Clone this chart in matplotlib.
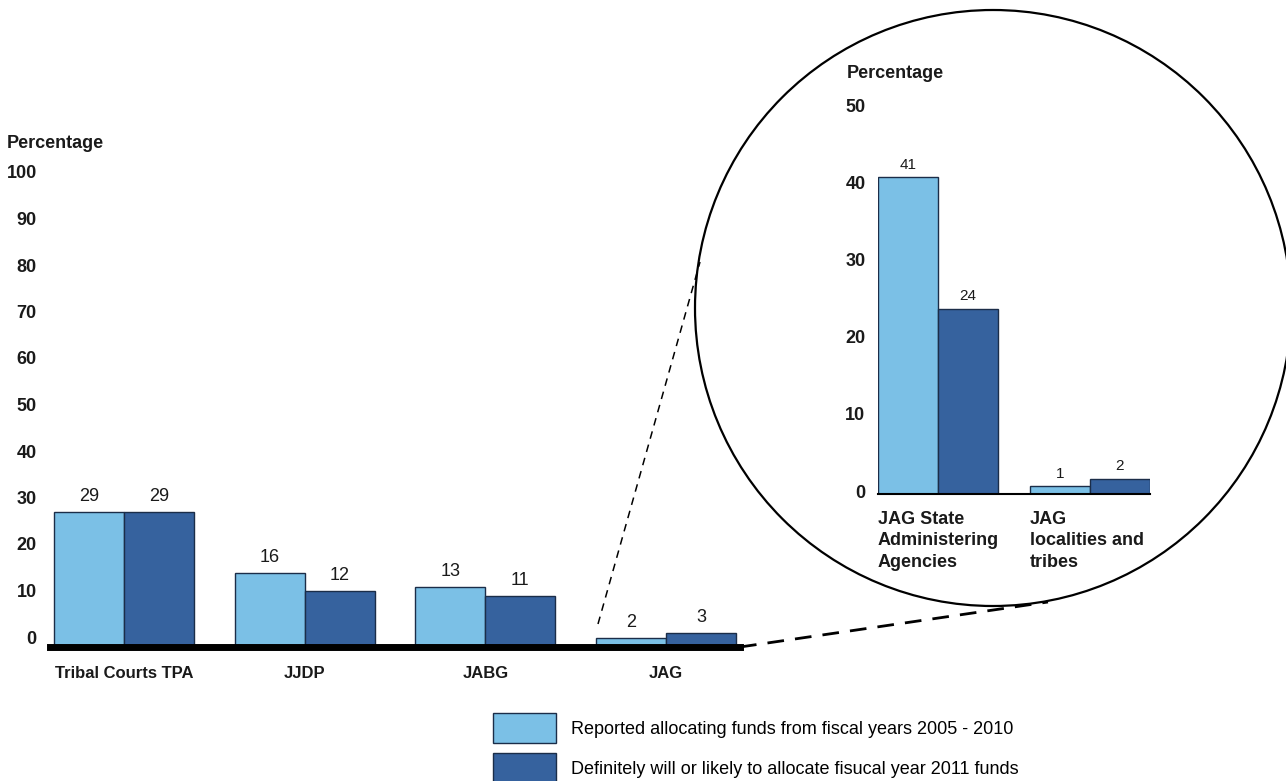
import matplotlib.pyplot as plt
import numpy as np
from matplotlib.patches import Circle
from matplotlib.transforms import ScaledTranslation

plt.rcParams['font.family'] = ['Liberation Sans', 'DejaVu Sans']

# main chart data
programs = ['Tribal Courts TPA', 'JJDP', 'JABG', 'JAG']
reported = [29, 16, 13, 2]
planned = [29, 12, 11, 3]

# zoomed JAG data
jag_groups = ['JAG State\nAdministering\nAgencies', 'JAG\nlocalities and\ntribes']
jag_reported = [41, 1]
jag_planned = [24, 2]

series_names = ['Reported allocating funds from fiscal years 2005 - 2010',
                'Definitely will or likely to allocate fisucal year 2011 funds']

light = '#7BC0E6'
dark = '#36629E'
edge = '#1b2d48'
txt = '#1a1a1a'

W, H = 1286, 781
fig = plt.figure(figsize=(W / 100, H / 100), dpi=100)


def px_axes(x0, y0, x1, y1):
    # pixel box (top-left origin) -> figure axes
    return fig.add_axes([x0 / W, 1 - y1 / H, (x1 - x0) / W, (y1 - y0) / H])


def lift(labels, px):
    for lab in labels:
        lab.set_fontweight('bold')
        lab.set_transform(lab.get_transform() + ScaledTranslation(0, px / 100, fig.dpi_scale_trans))


# overlay for the circle and the dashed connectors
ov = px_axes(0, 0, W, H)
ov.set_xlim(0, W)
ov.set_ylim(H, 0)
ov.axis('off')
ov.add_patch(Circle((993, 308), 298, fill=False, lw=1.6, ec='black'))
ov.plot([598, 700], [624, 262], color='black', lw=1.1, dashes=(5, 4))
ov.plot([740, 1048], [647, 602], color='black', lw=2.0, dashes=(6, 4))

# main bar chart
ax = px_axes(50, 182, 740, 647)
ax.set_facecolor('none')
x = np.arange(len(programs))
w = 0.387
b1 = ax.bar(x - w / 2, reported, w, color=light, edgecolor=edge, lw=1, zorder=3)
b2 = ax.bar(x + w / 2, planned, w, color=dark, edgecolor=edge, lw=1, zorder=3)
ax.bar_label(b1, padding=5, fontsize=13, color=txt)
ax.bar_label(b2, padding=5, fontsize=13, color=txt)
ax.axhline(0, color='black', lw=5, zorder=4, clip_on=False)
ax.set_xlim(-0.41, 3.41)
ax.set_ylim(0, 100)
ax.set_yticks(range(0, 101, 10))
ax.set_xticks(x)
ax.set_xticklabels(programs, fontsize=12, fontweight='bold', color=txt)
ax.tick_params(axis='x', length=0, pad=14)
ax.tick_params(axis='y', length=0, pad=9.5, labelsize=13, labelcolor=txt)
lift(ax.get_yticklabels(), 10)
for s in ax.spines.values():
    s.set_visible(False)
fig.text(7 / W, 1 - 143 / H, 'Percentage', fontsize=13, fontweight='bold',
         color=txt, va='center')

# zoomed inset
ins = px_axes(878, 108, 1150, 494)
ins.set_facecolor('none')
xi = np.arange(len(jag_groups))
wi = 0.395
c1 = ins.bar(xi - wi / 2, jag_reported, wi, color=light, edgecolor=edge, lw=1, zorder=3)
c2 = ins.bar(xi + wi / 2, jag_planned, wi, color=dark, edgecolor=edge, lw=1, zorder=3)
ins.bar_label(c1, padding=4, fontsize=11, color=txt)
ins.bar_label(c2, padding=4, fontsize=11, color=txt)
ins.axhline(0, color='black', lw=1.5, zorder=4, clip_on=False)
ins.set_xlim(-wi, 1 + wi)
ins.set_ylim(0, 50)
ins.set_yticks(range(0, 51, 10))
ins.set_xticks(xi - wi)
ins.set_xticklabels(jag_groups, fontsize=13, fontweight='bold', color=txt,
                    ha='left', linespacing=1.35)
ins.tick_params(axis='x', length=0, pad=12)
ins.tick_params(axis='y', length=0, pad=9, labelsize=13, labelcolor=txt)
lift(ins.get_yticklabels(), 3)
for s in ins.spines.values():
    s.set_visible(False)
fig.text(847 / W, 1 - 73 / H, 'Percentage', fontsize=13, fontweight='bold',
         color=txt, va='center')

# legend
fig.legend([b1, b2], series_names, loc='upper left',
           bbox_to_anchor=(493 / W, 1 - 713 / H), frameon=False,
           fontsize=13, handlelength=3.49, handleheight=2.18,
           handletextpad=0.83, labelspacing=0.55, borderpad=0, borderaxespad=0)

fig.savefig('out.png', dpi=100, facecolor='white')
